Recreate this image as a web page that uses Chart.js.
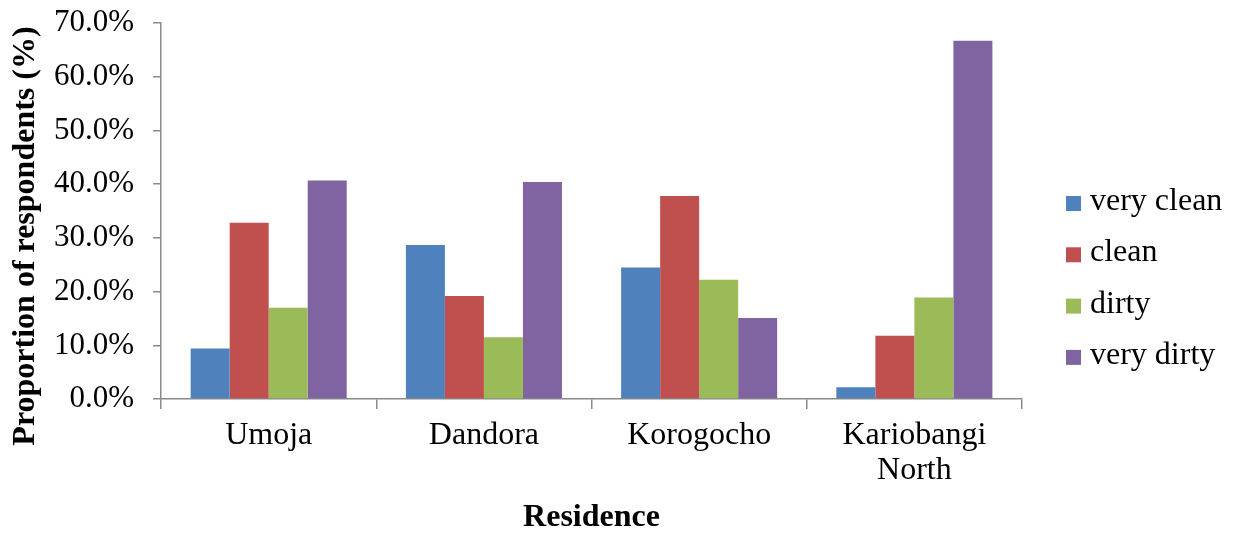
<!DOCTYPE html>
<html>
<head>
<meta charset="utf-8">
<script src="https://cdn.jsdelivr.net/npm/chart.js@4.4.1/dist/chart.umd.min.js"></script>
<style>
  html, body { margin: 0; padding: 0; background: #fff; }
  #wrap { width: 1237px; height: 534px; position: relative; }
</style>
</head>
<body>
<div id="wrap"><canvas id="c"></canvas></div>
<script>
// Residence areas and the share of respondents rating each cleanliness level (%)
const residences = ["Umoja", "Dandora", "Korogocho", ["Kariobangi", "North"]];
const veryClean = [9.4, 28.7, 24.5, 2.2];
const clean     = [32.8, 19.2, 37.8, 11.8];
const dirty     = [17.0, 11.5, 22.2, 18.9];
const veryDirty = [40.7, 40.4, 15.1, 66.7];
const seriesNames = ["very clean", "clean", "dirty", "very dirty"];
const seriesColors = ["#4F81BD", "#C0504D", "#9BBB59", "#8064A2"];
const yTitle = "Proportion of respondents (%)";
const xTitle = "Residence";

const serif = "'Liberation Serif', 'Times New Roman', serif";
const axisGray = "#8a8a8a";

const datasets = [veryClean, clean, dirty, veryDirty].map((vals, i) => ({
  label: seriesNames[i],
  data: vals,
  backgroundColor: seriesColors[i],
  borderWidth: 0,
  categoryPercentage: 0.725,
  barPercentage: 1.0
}));

// Vertical y-axis title, placed beside the tick labels
const yTitlePlugin = {
  id: "yTitle",
  afterDraw(chart) {
    const ctx = chart.ctx;
    ctx.save();
    ctx.translate(34, 236);
    ctx.rotate(-Math.PI / 2);
    ctx.font = "bold 32px " + serif;
    ctx.fillStyle = "#000";
    ctx.textAlign = "center";
    ctx.textBaseline = "alphabetic";
    ctx.fillText(yTitle, 0, 0);
    ctx.restore();
  }
};

// Legend column on the right, built from the datasets
const sideLegend = {
  id: "sideLegend",
  afterDraw(chart) {
    const ctx = chart.ctx;
    const x = 1066, y0 = 203.5, step = 51.3, box = 15;
    ctx.save();
    ctx.font = "32px " + serif;
    ctx.textBaseline = "middle";
    ctx.textAlign = "left";
    chart.data.datasets.forEach((ds, i) => {
      const cy = y0 + i * step;
      ctx.fillStyle = ds.backgroundColor;
      ctx.fillRect(x, cy - box / 2, box, box);
      ctx.fillStyle = "#000";
      ctx.fillText(ds.label, x + 24, cy - 2);
    });
    ctx.restore();
  }
};

new Chart(document.getElementById("c"), {
  type: "bar",
  data: { labels: residences, datasets },
  plugins: [yTitlePlugin, sideLegend],
  options: {
    responsive: true,
    maintainAspectRatio: false,
    animation: false,
    layout: { padding: { top: 23, right: 215, bottom: 0, left: 35 } },
    plugins: {
      tooltip: { enabled: false },
      legend: { display: false }
    },
    scales: {
      x: {
        grid: {
          offset: true,
          drawOnChartArea: false,
          drawTicks: true,
          tickLength: 10,
          color: axisGray,
          lineWidth: 1.5
        },
        border: { color: axisGray, width: 1.5 },
        ticks: {
          font: { family: serif, size: 32, lineHeight: 1.1 },
          color: "#000",
          padding: 9
        },
        title: {
          display: true,
          text: xTitle,
          font: { family: serif, size: 32, weight: "bold", lineHeight: 1.0 },
          color: "#000",
          padding: { top: 4.5, bottom: 0 }
        }
      },
      y: {
        min: 0,
        max: 70,
        afterFit(scale) {
          scale.paddingTop = 0;
          scale.paddingBottom = 0;
        },
        grid: {
          drawOnChartArea: false,
          drawTicks: true,
          tickLength: 8,
          color: axisGray,
          lineWidth: 1.5
        },
        border: { color: axisGray, width: 1.5 },
        ticks: {
          stepSize: 10,
          font: { family: serif, size: 31 },
          color: "#000",
          padding: 19,
          callback: v => v.toFixed(1) + "%"
        }
      }
    }
  }
});
</script>
</body>
</html>
